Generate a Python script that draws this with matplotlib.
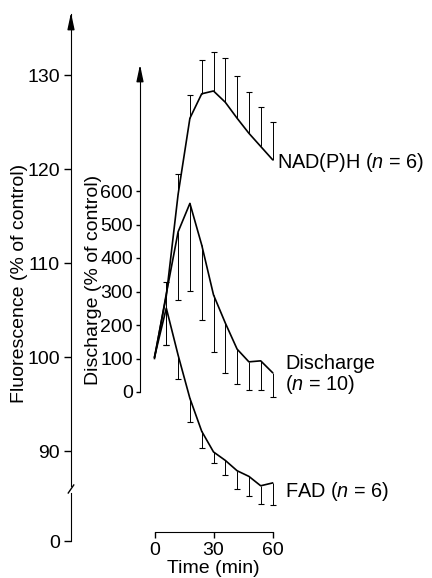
import matplotlib
matplotlib.use('Agg')
import matplotlib.pyplot as plt
import numpy as np

plt.rcParams['font.family'] = ['Liberation Sans', 'DejaVu Sans']
plt.rcParams['mathtext.fontset'] = 'custom'
plt.rcParams['mathtext.it'] = 'Liberation Sans:italic'
plt.rcParams['mathtext.rm'] = 'Liberation Sans'
plt.rcParams['font.size'] = 14

# dati nolasīti no attēla
laiks = [0, 6, 12, 18, 24, 30, 36, 42, 48, 54, 60]
nadph = [100, 106.5, 117.3, 125.4, 128.0, 128.3, 127.1, 125.4, 123.8, 122.4, 121.0]
nadph_aug = [100, 108.0, 119.5, 127.9, 131.6, 132.5, 131.8, 129.9, 128.2, 126.6, 125.0]
fad = [100, 105.2, 100.2, 95.6, 92.1, 89.9, 89.0, 87.9, 87.3, 86.3, 86.6]
fad_apak = [100, 101.3, 97.7, 93.1, 90.3, 88.7, 87.5, 86.0, 85.2, 84.4, 84.3]
izlade = [100, 293, 478, 563, 439, 290, 206, 128, 90, 93, 58]
izlade_apak = [100, 140, 275, 302, 215, 120, 58, 23, 6, 6, -14]

W, H = 432, 578
def rect(l, r, t, b):
    return [l / W, 1 - b / H, (r - l) / W, (b - t) / H]

# pikseļu enkuri
t0_px, px_min = 154.5, 1.9667
f100_px, px_f = 357, 9.4
d0_px, px_d = 392, 0.335

def fl(px):
    return 100 + (f100_px - px) / px_f
def dl(px):
    return (d0_px - px) / px_d
def tl(px):
    return (px - t0_px) / px_min

fig = plt.figure(figsize=(W / 100, H / 100), dpi=100)
ax = fig.add_axes(rect(71, 300, 10, 545))
ax.set_xlim(tl(71), tl(300))
ax.set_ylim(fl(545), fl(10))
for s in ['top', 'right']:
    ax.spines[s].set_visible(False)
ax.spines['left'].set_bounds(fl(486), fl(14))
ax.spines['bottom'].set_position(('data', fl(532)))
ax.spines['bottom'].set_bounds(0, 60)
ax.set_yticks([90, 100, 110, 120, 130])
ax.set_xticks([0, 30, 60])
ax.tick_params(axis='y', length=5, width=1, pad=3)
ax.tick_params(axis='x', length=4, width=1, pad=3)
ax.set_ylabel('Fluorescence (% of control)', fontsize=14)
ax.yaxis.set_label_coords((28 - 71) / 229, (545 - 283) / 535)
ax.set_xlabel('Time (min)', fontsize=14)
ax.xaxis.set_label_coords((213 - 71) / 229, (545 - 560) / 535)

tr = ax.get_yaxis_transform()
ax.annotate('', xy=(0, fl(10)), xytext=(0, fl(22)), xycoords=tr, textcoords=tr,
            arrowprops=dict(arrowstyle='-|>,head_length=0.7,head_width=0.15', color='k', lw=1))
ax.plot([-0.012, 0.012], [fl(493), fl(485)], color='k', lw=1, transform=tr, clip_on=False)

# apakšējais posms ar 0
ax_z = fig.add_axes(rect(71, 300, 493, 541))
ax_z.set_ylim(0, 1)
ax_z.patch.set_visible(False)
for s in ['top', 'right', 'bottom']:
    ax_z.spines[s].set_visible(False)
ax_z.set_xticks([])
ax_z.set_yticks([0])
ax_z.tick_params(axis='y', length=5, width=1, pad=3)

# izlādes ass
ax_d = fig.add_axes(rect(71, 300, 10, 545), sharex=ax)
ax_d.patch.set_visible(False)
ax_d.set_ylim(dl(545), dl(10))
for s in ['top', 'right', 'bottom']:
    ax_d.spines[s].set_visible(False)
x_d = tl(140)
ax_d.spines['left'].set_position(('data', x_d))
ax_d.spines['left'].set_bounds(0, dl(70))
ax_d.set_yticks(range(0, 700, 100))
ax_d.tick_params(axis='y', length=3, width=1, pad=2)
ax_d.tick_params(axis='x', bottom=False, labelbottom=False)
ax_d.annotate('', xy=(x_d, dl(62)), xytext=(x_d, dl(74)),
              arrowprops=dict(arrowstyle='-|>,head_length=0.7,head_width=0.15', color='k', lw=1))
ax_d.set_ylabel('Discharge (% of control)', fontsize=14)
ax_d.yaxis.set_label_coords((102 - 71) / 229, (545 - 280) / 535)

# līknes un kļūdu joslas
ax.plot(laiks, nadph, color='k', lw=1.2)
ax.vlines(laiks[1:], nadph[1:], nadph_aug[1:], color='k', lw=0.7)
ax.plot(laiks[1:], nadph_aug[1:], '_', color='k', ms=4, mew=0.8)

ax.plot(laiks, fad, color='k', lw=1.2)
ax.vlines(laiks[1:], fad[1:], fad_apak[1:], color='k', lw=0.7)
ax.plot(laiks[1:], fad_apak[1:], '_', color='k', ms=4, mew=0.8)

ax_d.plot(laiks, izlade, color='k', lw=1.2)
ax_d.vlines(laiks[1:], izlade[1:], izlade_apak[1:], color='k', lw=0.7)
ax_d.plot(laiks[1:], izlade_apak[1:], '_', color='k', ms=4, mew=0.8)

ax.text(tl(277), fl(163), 'NAD(P)H ($n$ = 6)', va='center', ha='left', fontsize=14.3)
ax.text(tl(285), fl(375), 'Discharge\n($n$ = 10)', va='center', ha='left', fontsize=14.3,
        linespacing=1.0)
ax.text(tl(285), fl(492), 'FAD ($n$ = 6)', va='center', ha='left', fontsize=14.3)

fig.savefig('out.png', dpi=100)
